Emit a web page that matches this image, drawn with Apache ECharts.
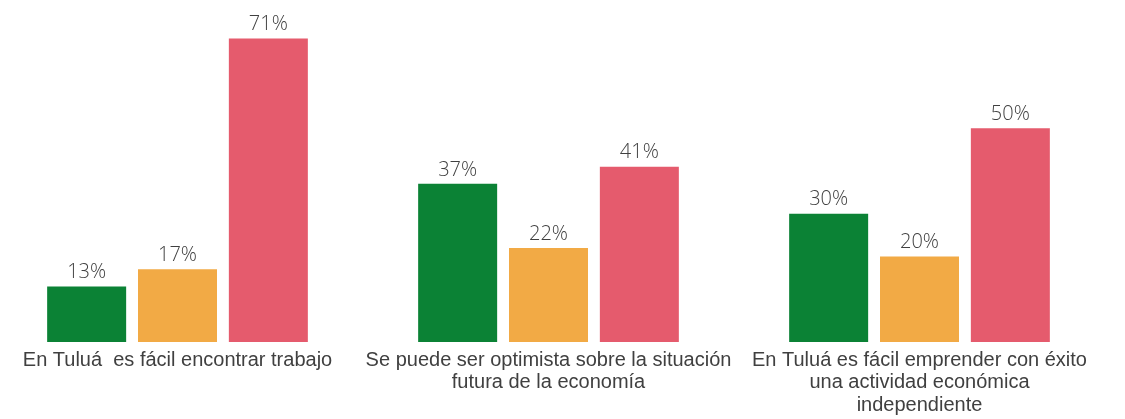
<!DOCTYPE html>
<html><head><meta charset="utf-8">
<script src="https://cdn.jsdelivr.net/npm/echarts@6/dist/echarts.min.js"></script>
<style>html,body{margin:0;padding:0;background:#fff;overflow:hidden}#c{width:1133px;height:419px;margin-left:-8px}</style>
</head><body><div id="c"></div>
<script>
const categories = [
  "En Tuluá  es fácil encontrar trabajo",
  "Se puede ser optimista sobre la situación\nfutura de la economía",
  "En Tuluá es fácil emprender con éxito\nuna actividad económica\nindependiente"
];
const seriesGreen = [13, 37, 30];
const seriesOrange = [17, 22, 20];
const seriesRed = [71, 41, 50];
const colors = ["#0b8235", "#f2aa45", "#e55b6d"];

const chart = echarts.init(document.getElementById('c'), null, {renderer: 'canvas'});
const mk = (data, color) => ({
  type: 'bar', data, barWidth: 79, barGap: '15%',
  itemStyle: {color},
  label: {show: true, position: 'top', distance: 4, formatter: '{c}%', color: '#404040',
          fontSize: 20, fontFamily: 'Open Sans', fontWeight: 300}
});
chart.setOption({
  animation: false,
  grid: {left: 0, right: 20, top: 0, bottom: 77, containLabel: false},
  xAxis: {type: 'category', data: categories,
    axisLine: {show: false}, axisTick: {show: false},
    axisLabel: {interval: 0, color: '#404040', fontSize: 20, fontFamily: 'Liberation Sans', lineHeight: 22.5, margin: 7}},
  yAxis: {type: 'value', min: 0, max: 80, show: false, splitLine: {show: false}},
  series: [mk(seriesGreen, colors[0]), mk(seriesOrange, colors[1]), mk(seriesRed, colors[2])]
});
</script></body></html>
